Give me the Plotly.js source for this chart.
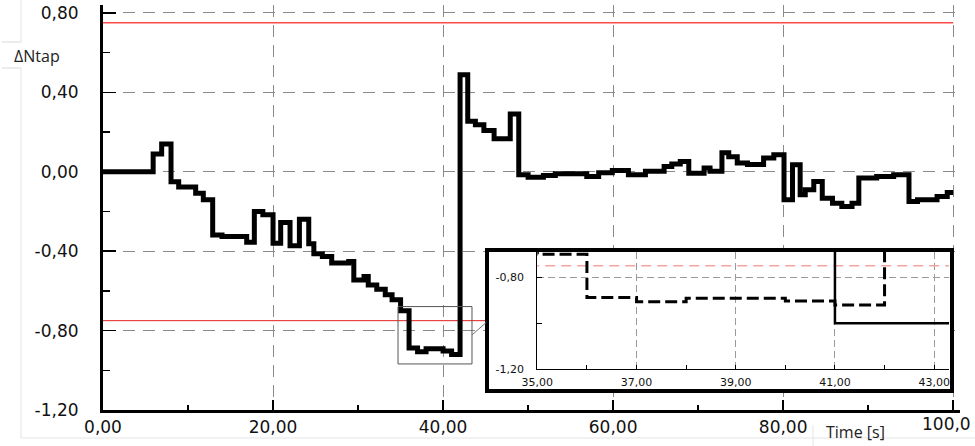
<!DOCTYPE html>
<html>
<head>
<meta charset="utf-8">
<script src="https://cdn.plot.ly/plotly-3.0.1.min.js"></script>
<style>html,body{margin:0;padding:0;background:#fff;overflow:hidden;}#chart{width:975px;height:446px;}</style>
</head>
<body>
<div id="chart"></div>
<script>
// ---- data ----
const timeS = [0, 5.9, 6.9, 8.0, 8.9, 10.9, 11.8, 12.9, 14.0, 16.9, 17.8, 18.8, 20.0, 20.9, 22.0, 23.1, 24.2, 24.8, 25.8, 26.9, 28.9, 29.5, 30.7, 31.2, 32.2, 33.2, 34.0, 35.0, 36.0, 37.0, 38.0, 40.0, 41.0, 42.0, 42.9, 43.8, 44.8, 46.0, 47.9, 48.9, 50.0, 51.8, 53.2, 56.9, 58.3, 59.9, 61.8, 63.8, 66.0, 66.9, 67.9, 68.9, 70.7, 71.4, 72.8, 73.6, 74.6, 75.8, 77.7, 78.9, 80.1, 81.1, 82.0, 82.6, 83.6, 84.6, 85.8, 86.9, 88.1, 88.9, 91.0, 93.0, 94.8, 95.8, 98.1, 99.3, 100.0];
const dNtap = [0.0, 0.09, 0.14, -0.05, -0.077, -0.108, -0.141, -0.318, -0.326, -0.355, -0.20, -0.217, -0.36, -0.256, -0.373, -0.239, -0.363, -0.413, -0.427, -0.46, -0.452, -0.545, -0.528, -0.57, -0.592, -0.62, -0.645, -0.70, -0.888, -0.906, -0.891, -0.903, -0.92, 0.489, 0.254, 0.237, 0.208, 0.166, 0.291, -0.015, -0.027, -0.019, -0.01, -0.024, -0.005, 0.007, -0.015, 0.002, 0.027, 0.039, 0.052, -0.007, 0.019, 0.002, 0.096, 0.076, 0.044, 0.037, 0.069, 0.086, -0.141, 0.035, -0.116, -0.091, -0.049, -0.133, -0.158, -0.175, -0.158, -0.032, -0.024, -0.015, -0.15, -0.141, -0.124, -0.104, -0.104];
const limitT = [0, 100];
const limitUpper = [0.75, 0.75];
const limitLower = [-0.75, -0.75];
const insetSolidT = [41, 41, 43.6];
const insetSolidV = [-0.6, -1.0, -1.0];

const xTickVals = [0, 20, 40, 60, 80, 100];
const xTickText = ['0,00', '20,00', '40,00', '60,00', '80,00', ''];
const xLastLabel = '100,0';
const xMinorVals = [10, 30, 50, 70, 90];
const yTickVals = [-1.2, -0.8, -0.4, 0, 0.4, 0.8];
const yTickText = ['-1,20', '-0,80', '-0,40', '0,00', '0,40', '0,80'];
const yMinorVals = [-1.0, -0.6, -0.2, 0.2, 0.6];
const inXTickVals = [35, 37, 39, 41, 43];
const inXTickText = ['35,00', '37,00', '39,00', '41,00', '43,00'];
const inXMinorVals = [36, 38, 40, 42];
const inYTickVals = [-1.2, -0.8];
const inYTickText = ['-1,20', '-0,80'];
const inYMinorVals = [-1.0];

// ---- traces ----
const traces = [
  {x: limitT, y: limitUpper, mode: 'lines', line: {color: '#ff4a4a', width: 1.5}, hoverinfo: 'skip'},
  {x: limitT, y: limitLower, mode: 'lines', line: {color: '#e32222', width: 1}, hoverinfo: 'skip'},
  {x: timeS, y: dNtap, mode: 'lines', line: {color: '#000', width: 5, shape: 'hv'}, hoverinfo: 'skip'},
  {x: [], y: [], xaxis: 'x2', yaxis: 'y2', mode: 'lines', hoverinfo: 'skip'},
  {x: limitT, y: limitLower, xaxis: 'x3', yaxis: 'y3', mode: 'lines', line: {color: '#f4a3a3', width: 1.5, dash: '10px,6px'}, hoverinfo: 'skip'},
  {x: timeS, y: dNtap, xaxis: 'x3', yaxis: 'y3', mode: 'lines', line: {color: '#000', width: 3, shape: 'hv', dash: '12px,5px'}, hoverinfo: 'skip'},
  {x: insetSolidT, y: insetSolidV, xaxis: 'x3', yaxis: 'y3', mode: 'lines', line: {color: '#000', width: 2.5}, hoverinfo: 'skip'}
];

const tickFont = {family: 'DejaVu Sans', size: 17, color: '#111'};
const inFont = {family: 'DejaVu Sans', size: 11, color: '#111'};
const faint = {color: '#e4e4e4', width: 1};

const layout = {
  width: 975, height: 446,
  margin: {l: 103, r: 15, t: 5, b: 36},
  paper_bgcolor: '#fff', plot_bgcolor: '#ffffff',
  showlegend: false,
  xaxis: {
    range: [0, 100.8], tickvals: xTickVals, ticktext: xTickText,
    ticks: 'inside', ticklen: 10, tickwidth: 1.5, tickcolor: '#000',
    minor: {tickvals: xMinorVals, ticks: 'inside', ticklen: 5, tickwidth: 1.5, tickcolor: '#000', showgrid: false},
    showgrid: true, gridcolor: '#8a8a8a', gridwidth: 1, griddash: '12px,8px',
    zeroline: false, showline: true, linecolor: '#000', linewidth: 3,
    tickfont: tickFont, ticklabelstandoff: 0, ticklabeloverflow: 'allow', fixedrange: true
  },
  yaxis: {
    range: [-1.2, 0.84], tickvals: yTickVals, ticktext: yTickText,
    ticks: 'inside', ticklen: 13, tickwidth: 1.5, tickcolor: '#000',
    minor: {tickvals: yMinorVals, ticks: 'inside', ticklen: 7, tickwidth: 1.5, tickcolor: '#000', showgrid: false},
    showgrid: true, gridcolor: '#8a8a8a', gridwidth: 1, griddash: '12px,8px',
    zeroline: false, showline: true, linecolor: '#000', linewidth: 3,
    tickfont: tickFont, ticklabelstandoff: 18, ticklabeloverflow: 'allow', fixedrange: true
  },
  xaxis2: {
    domain: [0.4504, 0.9883], anchor: 'y2', range: [0, 1],
    showgrid: false, zeroline: false, showticklabels: false, ticks: '',
    showline: true, mirror: true, linewidth: 4, linecolor: '#000', fixedrange: true
  },
  yaxis2: {
    domain: [0.0519, 0.3901], anchor: 'x2', range: [0, 1],
    showgrid: false, zeroline: false, showticklabels: false, ticks: '',
    showline: true, mirror: true, linewidth: 4, linecolor: '#000', fixedrange: true
  },
  xaxis3: {
    domain: [0.5068, 0.9872], anchor: 'y3', range: [35, 43.3],
    tickvals: inXTickVals, ticktext: inXTickText,
    ticks: 'inside', ticklen: 4, tickcolor: '#000',
    minor: {tickvals: inXMinorVals, ticks: 'inside', ticklen: 4, tickcolor: '#000', showgrid: false},
    showgrid: true, gridcolor: '#9a9a9a', gridwidth: 1, griddash: '7px,4px',
    zeroline: false, showline: true, linecolor: '#000', linewidth: 1.2,
    tickfont: inFont, ticklabelstandoff: 2, fixedrange: true
  },
  yaxis3: {
    domain: [0.1005, 0.3901], anchor: 'x3', range: [-1.2, -0.69],
    tickvals: inYTickVals, ticktext: inYTickText,
    ticks: 'inside', ticklen: 5, tickcolor: '#000',
    minor: {tickvals: inYMinorVals, ticks: 'inside', ticklen: 5, tickcolor: '#000', showgrid: false},
    showgrid: true, gridcolor: '#9a9a9a', gridwidth: 1, griddash: '7px,4px',
    zeroline: false, showline: true, linecolor: '#000', linewidth: 1.2,
    tickfont: inFont, ticklabelstandoff: 10, fixedrange: true
  },
  shapes: [
    {type: 'rect', xref: 'x', yref: 'y', x0: 34.7, x1: 43.4, y0: -0.968, y1: -0.679, line: {color: '#555', width: 1}, layer: 'above'},
    {type: 'line', xref: 'x', yref: 'y', x0: 43.4, x1: 45.1, y0: -0.822, y1: -0.758, line: {color: '#777', width: 1}, layer: 'above'},
    {type: 'line', xref: 'paper', yref: 'paper', x0: -0.0957, x1: -0.0957, y0: 1.0123, y1: 0.9086, line: faint},
    {type: 'line', xref: 'paper', yref: 'paper', x0: -0.0957, x1: -0.0957, y0: 0.8444, y1: -0.0691, line: faint},
    {type: 'line', xref: 'paper', yref: 'paper', x0: -0.0957, x1: 1.02, y0: -0.0691, y1: -0.0691, line: faint},
    {type: 'line', xref: 'paper', yref: 'paper', x0: -0.1179, x1: -0.0957, y0: 0.9086, y1: 0.9086, line: {color: '#d8d8d8', width: 1}},
    {type: 'line', xref: 'paper', yref: 'paper', x0: -0.1179, x1: -0.0957, y0: 0.8444, y1: 0.8444, line: {color: '#d8d8d8', width: 1}},
    {type: 'line', xref: 'paper', yref: 'paper', x0: 0.8285, x1: 0.8285, y0: -0.037, y1: -0.0889, line: faint}
  ],
  annotations: [
    {text: 'ΔNtap', xref: 'paper', yref: 'paper', x: -0.0765, y: 0.874, xanchor: 'center', yanchor: 'middle', showarrow: false, font: {family: 'Open Sans', size: 16, color: '#222'}},
    {text: 'Time [s]', xref: 'paper', yref: 'paper', x: 0.8775, y: -0.0543, xanchor: 'center', yanchor: 'middle', showarrow: false, font: {family: 'Open Sans', size: 16, color: '#222'}},
    {text: xLastLabel, xref: 'paper', yref: 'paper', x: 1.0157, y: -0.0049, xanchor: 'right', yanchor: 'top', xshift: 0, showarrow: false, font: tickFont}
  ]
};

Plotly.newPlot('chart', traces, layout, {staticPlot: true, displayModeBar: false});
</script>
</body>
</html>
